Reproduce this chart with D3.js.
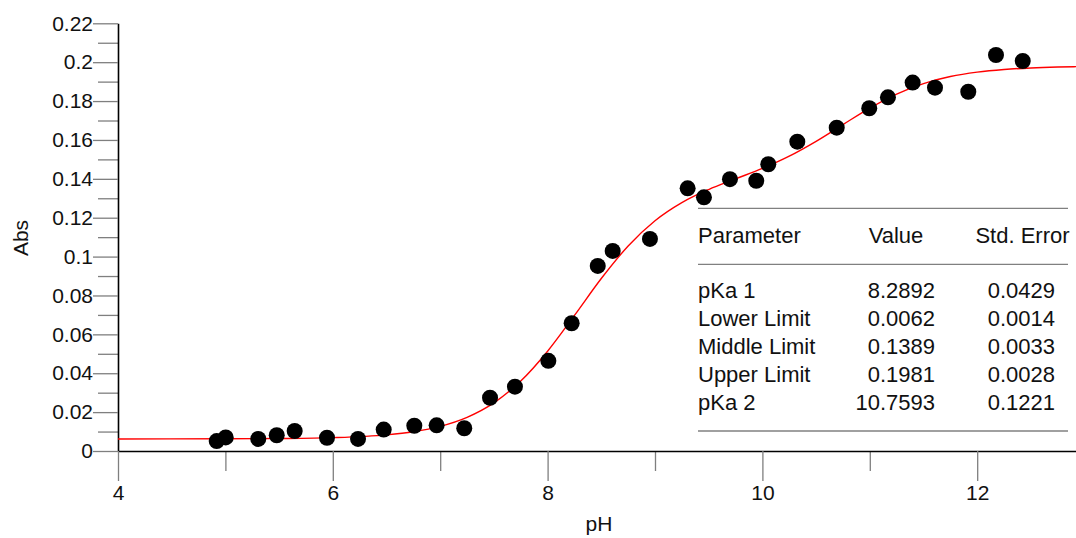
<!DOCTYPE html>
<html><head><meta charset="utf-8">
<script src="https://cdn.jsdelivr.net/npm/d3@7"></script>
<style>
body{margin:0;background:#fff;}
svg{display:block;font-family:"Liberation Sans",Arial,sans-serif;}
</style>
</head><body>
<svg id="c" width="1076" height="538"></svg>
<script>
// ---- data ----
const pHValues  = [4.919,5.003,5.306,5.478,5.645,5.946,6.235,6.474,6.759,6.967,7.224,7.464,7.696,8.007,8.224,8.467,8.606,8.953,9.304,9.456,9.698,9.943,10.055,10.325,10.692,10.995,11.169,11.399,11.607,11.917,12.175,12.424];
const absValues = [0.0051,0.0070,0.0062,0.0081,0.0103,0.0068,0.0062,0.0110,0.0130,0.0132,0.0117,0.0274,0.0331,0.0464,0.0657,0.0952,0.1029,0.1091,0.1351,0.1305,0.1398,0.1390,0.1475,0.1591,0.1663,0.1763,0.1819,0.1895,0.1869,0.1848,0.2037,0.2006];

// fitted curve samples
const fitPH  = [4.0,5.0,5.5,6.0,6.5,6.75,7.0,7.25,7.5,7.75,8.0,8.25,8.5,8.75,9.0,9.25,9.5,9.75,10.0,10.25,10.5,10.75,11.0,11.25,11.5,11.75,12.0,12.25,12.5,12.75,12.92];
const fitAbs = [0.00621,0.00627,0.00642,0.00688,0.00832,0.00993,0.01269,0.01732,0.02476,0.03598,0.05133,0.06975,0.08872,0.10546,0.11844,0.12777,0.13450,0.13996,0.14537,0.15168,0.15931,0.16790,0.17638,0.18360,0.18898,0.19261,0.19488,0.19625,0.19704,0.19750,0.19769];

const yMajorTicks  = [0,0.02,0.04,0.06,0.08,0.1,0.12,0.14,0.16,0.18,0.2,0.22];
const yMajorLabels = ["0","0.02","0.04","0.06","0.08","0.1","0.12","0.14","0.16","0.18","0.2","0.22"];
const yMinorTicks  = [0.01,0.03,0.05,0.07,0.09,0.11,0.13,0.15,0.17,0.19,0.21];
const xMajorTicks  = [4,6,8,10,12];
const xMajorLabels = ["4","6","8","10","12"];
const xMinorTicks  = [5,7,9,11];

const paramNames  = ["pKa 1","Lower Limit","Middle Limit","Upper Limit","pKa 2"];
const paramValues = ["8.2892","0.0062","0.1389","0.1981","10.7593"];
const paramErrors = ["0.0429","0.0014","0.0033","0.0028","0.1221"];
const tableHeaders = ["Parameter","Value","Std. Error"];

// ---- drawing ----
const svg = d3.select("#c");
const FS = 21, TFS = 22;
const x = d3.scaleLinear().domain([4, 12.92]).range([118, 1076]);
const y = d3.scaleLinear().domain([0, 0.22]).range([451, 23.3]);
const tickCol = "#7f7f7f";

function styleAxis(g, keepDomain){
  g.selectAll(".tick line").attr("stroke", tickCol).attr("stroke-width", 1.3);
  g.selectAll(".tick text").attr("fill", "#111").style("font-size", FS + "px").style("font-family", "'Liberation Sans',Arial,sans-serif");
  if (keepDomain) g.select(".domain").attr("stroke", "#000").attr("stroke-width", 1.6);
  else g.select(".domain").remove();
}

// minor ticks
svg.append("g").attr("transform", `translate(${x(4)},0)`)
  .call(d3.axisLeft(y).tickValues(yMinorTicks).tickSize(20).tickSizeOuter(0).tickFormat(""))
  .call(g => styleAxis(g, false));
svg.append("g").attr("transform", `translate(0,${y(0)})`)
  .call(d3.axisBottom(x).tickValues(xMinorTicks).tickSize(20).tickSizeOuter(0).tickFormat(""))
  .call(g => styleAxis(g, false));

// major axes
svg.append("g").attr("transform", `translate(${x(4)},0)`)
  .call(d3.axisLeft(y).tickValues(yMajorTicks).tickSize(25).tickSizeOuter(0).tickPadding(0)
    .tickFormat((d,i) => yMajorLabels[i]))
  .call(g => styleAxis(g, true));
svg.append("g").attr("transform", `translate(0,${y(0)})`)
  .call(d3.axisBottom(x).tickValues(xMajorTicks).tickSize(30).tickSizeOuter(0).tickPadding(4)
    .tickFormat((d,i) => xMajorLabels[i]))
  .call(g => styleAxis(g, true));

// axis titles
svg.append("text").attr("transform", "translate(28,238) rotate(-90)")
  .attr("text-anchor", "middle").style("font-size", FS + "px").attr("fill", "#111").text("Abs");
svg.append("text").attr("x", 599).attr("y", 531)
  .attr("text-anchor", "middle").style("font-size", FS + "px").attr("fill", "#111").text("pH");

// fitted curve
const line = d3.line().x((d,i) => x(fitPH[i])).y((d,i) => y(fitAbs[i])).curve(d3.curveMonotoneX);
svg.append("path").attr("d", line(fitPH)).attr("fill", "none").attr("stroke", "#ff0000").attr("stroke-width", 1.4);

// data points
svg.append("g").selectAll("circle").data(pHValues).join("circle")
  .attr("cx", (d) => x(d)).attr("cy", (d,i) => y(absValues[i])).attr("r", 8).attr("fill", "#000");

// parameter table
const tbl = svg.append("g").style("font-size", TFS + "px").attr("fill", "#111");
const tx0 = 698, tx1 = 1068;
[208.3, 264.3, 431].forEach(yy => {
  tbl.append("line").attr("x1", tx0).attr("x2", tx1).attr("y1", yy).attr("y2", yy)
    .attr("stroke", "#808080").attr("stroke-width", 1.3);
});
tbl.append("text").attr("x", tx0).attr("y", 243).text(tableHeaders[0]);
tbl.append("text").attr("x", 896).attr("y", 243).attr("text-anchor", "middle").text(tableHeaders[1]);
tbl.append("text").attr("x", 1022.5).attr("y", 243).attr("text-anchor", "middle").text(tableHeaders[2]);
paramNames.forEach((n, i) => {
  const yy = 298.3 + i * 27.9;
  tbl.append("text").attr("x", tx0).attr("y", yy).text(n);
  tbl.append("text").attr("x", 935).attr("y", yy).attr("text-anchor", "end").text(paramValues[i]);
  tbl.append("text").attr("x", 1055).attr("y", yy).attr("text-anchor", "end").text(paramErrors[i]);
});
</script>
</body></html>
